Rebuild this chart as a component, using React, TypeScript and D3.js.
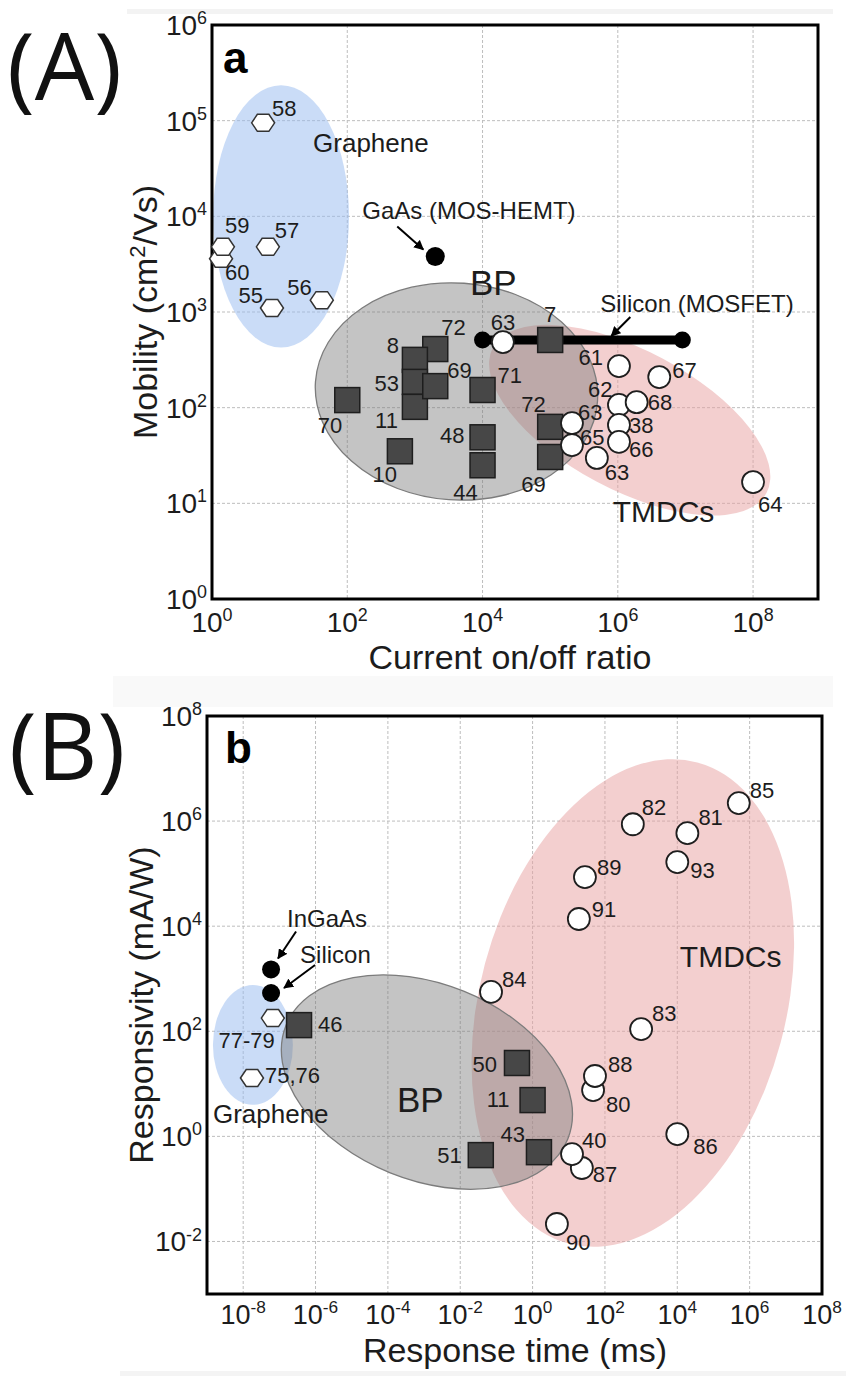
import React from 'react';
import * as d3 from 'd3';

const FONT = "'Liberation Sans', Arial, Helvetica, sans-serif";
const INK = '#1c1c1c';

type Pt = { label: string; x: number; y: number };
type Off = [number, number, 'start' | 'middle' | 'end'];

// ---------------- Panel A : mobility vs on/off ratio ----------------
const aXTickExps = [0, 2, 4, 6, 8];
const aYTickExps = [0, 1, 2, 3, 4, 5, 6];
const aXGridExps = [2, 4, 6, 8];
const aYGridExps = [1, 2, 3, 4, 5];

const aGraphene: Pt[] = [
  { label: '60', x: 1.36, y: 3600 },
  { label: '59', x: 1.45, y: 4800 },
  { label: '58', x: 5.7, y: 95000 },
  { label: '57', x: 6.7, y: 4800 },
  { label: '55', x: 7.7, y: 1100 },
  { label: '56', x: 42, y: 1330 },
];
const aBP: Pt[] = [
  { label: '70', x: 100, y: 120 },
  { label: '10', x: 600, y: 35 },
  { label: '72', x: 2000, y: 410 },
  { label: '8', x: 1000, y: 316 },
  { label: '53', x: 1000, y: 186 },
  { label: '11', x: 1000, y: 102 },
  { label: '69', x: 2000, y: 168 },
  { label: '71', x: 1e4, y: 153 },
  { label: '48', x: 1e4, y: 49 },
  { label: '44', x: 1e4, y: 25 },
  { label: '7', x: 1e5, y: 510 },
  { label: '72', x: 1e5, y: 63 },
  { label: '69', x: 1e5, y: 30.5 },
];
const aTMDC: Pt[] = [
  { label: '63', x: 2e4, y: 485 },
  { label: '61', x: 1.04e6, y: 272 },
  { label: '67', x: 4.1e6, y: 209 },
  { label: '62', x: 1.04e6, y: 107 },
  { label: '68', x: 1.9e6, y: 114 },
  { label: '38', x: 1.04e6, y: 66 },
  { label: '66', x: 1.04e6, y: 44 },
  { label: '63', x: 2.1e5, y: 69 },
  { label: '65', x: 2.1e5, y: 40.6 },
  { label: '63', x: 4.9e5, y: 29.8 },
  { label: '64', x: 1e8, y: 16.7 },
];
const aGaAs = { label: 'GaAs (MOS-HEMT)', x: 2000, y: 3800 };
const aSiliconMosfet = { label: 'Silicon (MOSFET)', x0: 1e4, x1: 9e6, y: 510 };

// regions: centre in data units, semi-axes in decades, rotation in degrees
const aRegions = [
  { name: 'Graphene', kind: 'graphene', cx: 10.5, cy: 1e4, rxDec: 1.005, ryDec: 1.37, angle: 0 },
  { name: 'TMDCs', kind: 'tmdc', cx: 1.5e6, cy: 74, rxDec: 2.29, ryDec: 0.73, angle: 28 },
  { name: 'BP', kind: 'bp', cx: 4120, cy: 147.6, rxDec: 2.09, ryDec: 1.134, angle: 4 },
];

// ---------------- Panel B : responsivity vs response time ----------------
const bXTickExps = [-8, -6, -4, -2, 0, 2, 4, 6, 8];
const bYTickExps = [-2, 0, 2, 4, 6, 8];
const bXGridExps = [-8, -6, -4, -2, 0, 2, 4, 6];
const bYGridExps = [-2, 0, 2, 4, 6];

const bGraphene: Pt[] = [
  { label: '77-79', x: 6.6e-8, y: 178 },
  { label: '75,76', x: 1.75e-8, y: 12.9 },
];
const bBP: Pt[] = [
  { label: '46', x: 3.5e-7, y: 131 },
  { label: '50', x: 0.37, y: 24.9 },
  { label: '11', x: 1.0, y: 4.9 },
  { label: '51', x: 0.037, y: 0.44 },
  { label: '43', x: 1.5, y: 0.5 },
];
const bTMDC: Pt[] = [
  { label: '84', x: 0.071, y: 560 },
  { label: '91', x: 19, y: 1.37e4 },
  { label: '89', x: 28, y: 8.6e4 },
  { label: '82', x: 590, y: 8.7e5 },
  { label: '81', x: 1.9e4, y: 5.9e5 },
  { label: '93', x: 1e4, y: 1.66e5 },
  { label: '85', x: 5e5, y: 2.2e6 },
  { label: '83', x: 1000, y: 110 },
  { label: '80', x: 47, y: 7.6 },
  { label: '88', x: 53, y: 14.1 },
  { label: '86', x: 1e4, y: 1.1 },
  { label: '87', x: 23, y: 0.25 },
  { label: '40', x: 12.3, y: 0.46 },
  { label: '90', x: 4.7, y: 0.0215 },
];
const bRefs = [
  { label: 'InGaAs', x: 5.9e-8, y: 1500 },
  { label: 'Silicon', x: 5.9e-8, y: 535 },
];
const bRegions = [
  { name: 'Graphene', kind: 'graphene', cx: 1.86e-8, cy: 55, rxDec: 1.105, ryDec: 1.14, angle: 0 },
  { name: 'TMDCs', kind: 'tmdc', cx: 590, cy: 345, rxDec: 4.23, ryDec: 4.74, angle: 15 },
  { name: 'BP', kind: 'bp', cx: 1.2e-3, cy: 10.8, rxDec: 4.2, ryDec: 1.865, angle: 22 },
];

// ---------------- layout (label placement, pixels relative to marks) ----------------
const aGrapheneLab: Off[] = [[4, 21, 'start'], [2, -14, 'start'], [9, -7, 'start'], [7, -9, 'start'], [-9, -5, 'end'], [-10, -5, 'end']];
const aBPLab: Off[] = [[-5, 33, 'end'], [-3, 31, 'end'], [6, -14, 'start'], [-16, -7, 'end'], [-16, 9, 'end'], [-17, 21, 'end'], [12, -8, 'start'], [15, -7, 'start'], [-18, 6, 'end'], [-17, 35, 'middle'], [0, -18, 'middle'], [-29, -15, 'start'], [-29, 35, 'start']];
const aTMDCLab: Off[] = [[0, -12, 'middle'], [-16, -1, 'end'], [13, 1, 'start'], [-31, -8, 'start'], [11, 8, 'start'], [10, 8, 'start'], [10, 15, 'start'], [6, -3, 'start'], [8, 0, 'start'], [8, 22, 'start'], [5, 30, 'start']];
const bGrapheneLab: Off[] = [[2, 30, 'end'], [13, 5, 'start']];
const bBPLab: Off[] = [[19, 7, 'start'], [-20, 9, 'end'], [-23, 7, 'end'], [-19, 8, 'end'], [-14, -10, 'end']];
const bTMDCLab: Off[] = [[11, -5, 'start'], [13, -2, 'start'], [12, -2, 'start'], [9, -9, 'start'], [11, -8, 'start'], [13, 16, 'start'], [11, -5, 'start'], [11, -8, 'start'], [13, 22, 'start'], [13, -4, 'start'], [16, 20, 'start'], [11, 14, 'start'], [10, -6, 'start'], [9, 26, 'start']];
const aRegionLab: [number, number, number][] = [[32, -64, 26], [-17, 102, 30], [13.5, -96.5, 35]];
const bRegionLab: [number, number, number][] = [[-40, 78, 26], [47, -36, 30], [-30, 30, 35]];
const bRefLab: [number, number][] = [[16, -42], [29, -30]];
const bRefArrow: [number, number, number, number][] = [[25, -38, 7, -11], [44, -28, 13, -5]];

const REGION_STYLE: Record<string, any> = {
  graphene: { fill: 'rgba(150,186,240,0.5)', stroke: 'none' },
  tmdc: { fill: 'rgba(232,160,160,0.5)', stroke: 'none' },
  bp: { fill: 'rgba(120,120,120,0.44)', stroke: '#7c7c7c', strokeWidth: 1.3 },
};

const aX = d3.scaleLog().domain([1, Math.pow(10, 8.96)]).range([212, 818]);
const aY = d3.scaleLog().domain([1, 1e6]).range([599, 25]);
const bX = d3.scaleLog().domain([1e-9, 1e8]).range([207, 822]);
const bY = d3.scaleLog().domain([1e-3, 1e8]).range([1294, 716]);

function Pow({ x, y, exp, anchor, size }: { x: number; y: number; exp: number; anchor: string; size: number }) {
  return (
    <text x={x} y={y} textAnchor={anchor as any} fontFamily={FONT} fontSize={size} fill={INK}>
      <tspan>10</tspan>
      <tspan fontSize={size * 0.64} dy={-size * 0.39}>{String(exp)}</tspan>
    </text>
  );
}

function Hex({ cx, cy }: { cx: number; cy: number }) {
  const w = 11.5, h = 8.5;
  const pts = [[-w, 0], [-w / 2, -h], [w / 2, -h], [w, 0], [w / 2, h], [-w / 2, h]]
    .map(([a, b]) => `${cx + a},${cy + b}`).join(' ');
  return <polygon points={pts} fill="#fff" stroke="#333" strokeWidth={1.5} />;
}

function Num({ x, y, off, text }: { x: number; y: number; off: Off; text: string }) {
  return (
    <text x={x + off[0]} y={y + off[1]} textAnchor={off[2]} fontFamily={FONT} fontSize={22} fill={INK}>{text}</text>
  );
}

function Regions({ regions, xs, ys }: any) {
  const dx = xs(10) - xs(1);
  const dy = ys(1) - ys(10);
  const order = ['graphene', 'tmdc', 'bp'];
  const sorted = [...regions].sort((a: any, b: any) => order.indexOf(a.kind) - order.indexOf(b.kind));
  return (
    <g>
      {sorted.map((r: any, i: number) => {
        const cx = xs(r.cx), cy = ys(r.cy);
        return (
          <ellipse key={i} cx={cx} cy={cy} rx={r.rxDec * dx} ry={r.ryDec * dy}
            transform={`rotate(${r.angle},${cx},${cy})`} {...REGION_STYLE[r.kind]} />
        );
      })}
    </g>
  );
}

function RegionLabels({ regions, labs, xs, ys }: any) {
  return (
    <g>
      {regions.map((r: any, i: number) => (
        <text key={i} x={xs(r.cx) + labs[i][0]} y={ys(r.cy) + labs[i][1]} fontFamily={FONT}
          fontSize={labs[i][2]} fill={INK}>{r.name}</text>
      ))}
    </g>
  );
}

function Axes({ xs, ys, xTicks, yTicks, xGrid, yGrid, xTitle, yTitle, yTitleX, xTitleY, xTitleX, tickSize, tickDy }: any) {
  const [x0, x1] = xs.range();
  const [y0, y1] = ys.range();
  return (
    <g>
      {xGrid.map((e: number) => (
        <line key={'gx' + e} x1={xs(Math.pow(10, e))} x2={xs(Math.pow(10, e))} y1={y1} y2={y0}
          stroke="#bdbdbd" strokeWidth={1} strokeDasharray="3,2" />
      ))}
      {yGrid.map((e: number) => (
        <line key={'gy' + e} x1={x0} x2={x1} y1={ys(Math.pow(10, e))} y2={ys(Math.pow(10, e))}
          stroke="#bdbdbd" strokeWidth={1} strokeDasharray="3,2" />
      ))}
      {xTicks.map((e: number) => (
        <Pow key={'tx' + e} x={xs(Math.pow(10, e))} y={y0 + tickDy} exp={e} anchor="middle" size={tickSize} />
      ))}
      {yTicks.map((e: number) => (
        <Pow key={'ty' + e} x={x0 - 5} y={ys(Math.pow(10, e)) + 10} exp={e} anchor="end" size={28} />
      ))}
      <text x={xTitleX} y={xTitleY} textAnchor="middle" fontFamily={FONT} fontSize={34} fill={INK}>{xTitle}</text>
      <text transform={`translate(${yTitleX},${(y0 + y1) / 2}) rotate(-90)`} textAnchor="middle"
        fontFamily={FONT} fontSize={34} fill={INK}>{yTitle}</text>
    </g>
  );
}

function Frame({ xs, ys }: any) {
  const [x0, x1] = xs.range();
  const [y0, y1] = ys.range();
  return <rect x={x0} y={y1} width={x1 - x0} height={y0 - y1} fill="none" stroke="#000" strokeWidth={3} />;
}

function Squares({ data, labs, xs, ys }: any) {
  return (
    <g>
      {data.map((d: Pt, i: number) => (
        <rect key={i} x={xs(d.x) - 12.5} y={ys(d.y) - 12.5} width={25} height={25}
          fill="#474747" stroke="#1e1e1e" strokeWidth={1.5} />
      ))}
      {data.map((d: Pt, i: number) => (
        <Num key={'l' + i} x={xs(d.x)} y={ys(d.y)} off={labs[i]} text={d.label} />
      ))}
    </g>
  );
}
function Circles({ data, labs, xs, ys }: any) {
  return (
    <g>
      {data.map((d: Pt, i: number) => (
        <circle key={i} cx={xs(d.x)} cy={ys(d.y)} r={11} fill="#fff" stroke="#1e1e1e" strokeWidth={1.8} />
      ))}
      {data.map((d: Pt, i: number) => (
        <Num key={'l' + i} x={xs(d.x)} y={ys(d.y)} off={labs[i]} text={d.label} />
      ))}
    </g>
  );
}
function Hexes({ data, labs, xs, ys }: any) {
  return (
    <g>
      {data.map((d: Pt, i: number) => <Hex key={i} cx={xs(d.x)} cy={ys(d.y)} />)}
      {data.map((d: Pt, i: number) => (
        <Num key={'l' + i} x={xs(d.x)} y={ys(d.y)} off={labs[i]} text={d.label} />
      ))}
    </g>
  );
}

function Arrow({ x1, y1, x2, y2 }: any) {
  return <line x1={x1} y1={y1} x2={x2} y2={y2} stroke="#000" strokeWidth={2} markerEnd="url(#arrowHead)" />;
}

export default function App() {
  const gx = aX(aGaAs.x), gy = aY(aGaAs.y);
  const sx0 = aX(aSiliconMosfet.x0), sx1 = aX(aSiliconMosfet.x1), sy = aY(aSiliconMosfet.y);
  return (
    <svg width={846} height={1376} viewBox="0 0 846 1376"
      style={{ position: 'absolute', left: 0, top: 0, display: 'block', background: '#fff' }}>
      <defs>
        <marker id="arrowHead" viewBox="0 0 10 10" refX={9} refY={5} markerWidth={5} markerHeight={5} orient="auto">
          <path d="M0,0 L10,5 L0,10 z" fill="#000" />
        </marker>
      </defs>
      {/* faint scan bands */}
      <rect x={127} y={9} width={706} height={5} fill="#f3f3f3" />
      <rect x={113} y={676} width={720} height={31} fill="#f9f9f9" />
      <rect x={120} y={1371} width={726} height={5} fill="#f4f4f4" />

      {/* panel labels */}
      <text x={7} y={100} fontFamily="'Open Sans', 'Noto Sans', sans-serif" fontSize={94} fill="#111">(A)</text>
      <text x={9} y={780} fontFamily="'Open Sans', 'Noto Sans', sans-serif" fontSize={94} fill="#111">(B)</text>

      {/* ---------- Panel A ---------- */}
      <Axes xs={aX} ys={aY} xTicks={aXTickExps} yTicks={aYTickExps} xGrid={aXGridExps} yGrid={aYGridExps}
        xTitle="Current on/off ratio" xTitleX={510} xTitleY={669} tickSize={28} tickDy={33}
        yTitle={<><tspan>Mobility (cm</tspan><tspan fontSize={22} dy={-12}>2</tspan><tspan dy={12}>/Vs)</tspan></>}
        yTitleX={157} />
      <Regions regions={aRegions} xs={aX} ys={aY} />
      <Frame xs={aX} ys={aY} />
      <RegionLabels regions={aRegions} labs={aRegionLab} xs={aX} ys={aY} />
      <text x={223} y={73} fontFamily={FONT} fontWeight="bold" fontSize={44} fill="#000">a</text>

      {/* GaAs */}
      <text x={gx - 73} y={gy - 38} fontFamily={FONT} fontSize={24} fill={INK}>{aGaAs.label}</text>
      <Arrow x1={gx - 38} y1={gy - 30} x2={gx - 12} y2={gy - 7} />
      <circle cx={gx} cy={gy} r={9.5} fill="#000" />

      {/* Silicon MOSFET range */}
      <text x={sx1 - 82} y={sy - 28} fontFamily={FONT} fontSize={24} fill={INK}>{aSiliconMosfet.label}</text>
      <Arrow x1={sx1 - 52} y1={sy - 23} x2={sx1 - 71} y2={sy - 4} />
      <line x1={sx0} x2={sx1} y1={sy} y2={sy} stroke="#000" strokeWidth={9} />
      <circle cx={sx0} cy={sy} r={8.5} fill="#000" />
      <circle cx={sx1} cy={sy} r={8.5} fill="#000" />

      <Hexes data={aGraphene} labs={aGrapheneLab} xs={aX} ys={aY} />
      <Squares data={aBP} labs={aBPLab} xs={aX} ys={aY} />
      <Circles data={aTMDC} labs={aTMDCLab} xs={aX} ys={aY} />

      {/* ---------- Panel B ---------- */}
      <Axes xs={bX} ys={bY} xTicks={bXTickExps} yTicks={bYTickExps} xGrid={bXGridExps} yGrid={bYGridExps}
        xTitle="Response time (ms)" xTitleX={515} xTitleY={1362} tickSize={27} tickDy={30}
        yTitle="Responsivity (mA/W)" yTitleX={153} />
      <Regions regions={bRegions} xs={bX} ys={bY} />
      <Frame xs={bX} ys={bY} />
      <RegionLabels regions={bRegions} labs={bRegionLab} xs={bX} ys={bY} />
      <text x={225} y={763} fontFamily={FONT} fontWeight="bold" fontSize={44} fill="#000">b</text>

      {bRefs.map((r, i) => {
        const px = bX(r.x), py = bY(r.y);
        const a = bRefArrow[i];
        return (
          <g key={i}>
            <text x={px + bRefLab[i][0]} y={py + bRefLab[i][1]} fontFamily={FONT} fontSize={24} fill={INK}>{r.label}</text>
            <Arrow x1={px + a[0]} y1={py + a[1]} x2={px + a[2]} y2={py + a[3]} />
            <circle cx={px} cy={py} r={9} fill="#000" />
          </g>
        );
      })}
      <Hexes data={bGraphene} labs={bGrapheneLab} xs={bX} ys={bY} />
      <Squares data={bBP} labs={bBPLab} xs={bX} ys={bY} />
      <Circles data={bTMDC} labs={bTMDCLab} xs={bX} ys={bY} />
    </svg>
  );
}
